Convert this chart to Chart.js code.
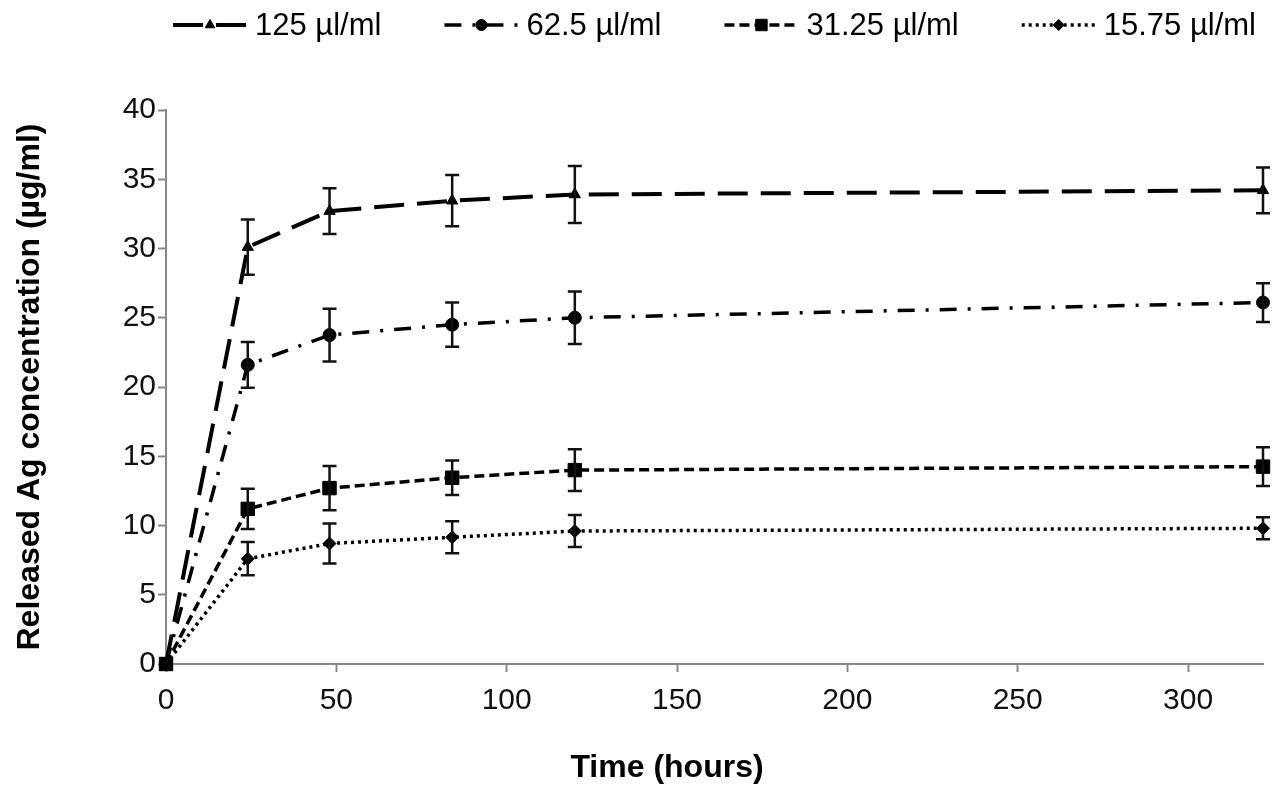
<!DOCTYPE html>
<html><head><meta charset="utf-8">
<script src="https://cdn.jsdelivr.net/npm/chart.js@4/dist/chart.umd.min.js"></script>
<style>html,body{margin:0;padding:0;background:#fff;}#wrap{width:1274px;height:790px;}</style>
</head><body><div id="wrap"><canvas id="c" width="1274" height="790"></canvas></div>
<script>
const timeHours = [0, 24, 48, 84, 120, 322];
const seriesLabels = ['125 µl/ml', '62.5 µl/ml', '31.25 µl/ml', '15.75 µl/ml'];
const conc125 = [0, 30.1, 32.7, 33.45, 33.9, 34.2];
const err125  = [0, 2.0, 1.65, 1.85, 2.05, 1.65];
const conc62  = [0, 21.6, 23.75, 24.5, 25.0, 26.1];
const err62   = [0, 1.65, 1.9, 1.6, 1.9, 1.4];
const conc31  = [0, 11.2, 12.7, 13.45, 14.0, 14.25];
const err31   = [0, 1.45, 1.6, 1.25, 1.5, 1.4];
const conc15  = [0, 7.6, 8.7, 9.15, 9.6, 9.8];
const err15   = [0, 1.2, 1.45, 1.15, 1.15, 0.8];
const xTitle = 'Time (hours)';
const yTitle = 'Released Ag concentration (µg/ml)';

const FONT = "'Liberation Sans', Arial, sans-serif";
Chart.defaults.font.family = FONT;
Chart.defaults.color = '#111';

function pts(vals){ return vals.map((v,i)=>({x: timeHours[i], y: v})); }

const styles = [
  {dash:[30,13], style:'triangle', r:6.5, w:4},
  {dash:[17,11,3,11], style:'circle', r:6.5, w:3.5},
  {dash:[10,5], style:'rect', r:9.5, w:3.5},
  {dash:[3,4], style:'rectRot', r:6.5, w:3.5}
];
const values = [conc125, conc62, conc31, conc15];
const errors = [err125, err62, err31, err15];

const datasets = seriesLabels.map((lab,i)=>({
  label: lab,
  data: pts(values[i]),
  errors: errors[i],
  borderColor:'#000', backgroundColor:'#000',
  borderWidth: styles[i].w, borderDash: styles[i].dash,
  pointStyle: styles[i].style, pointRadius: styles[i].r,
  pointBackgroundColor:'#000', pointBorderColor:'#000', pointBorderWidth:1,
  tension:0, fill:false, clip:false
}));

const errorBars = {
  id:'errorBars',
  afterDatasetsDraw(chart){
    const ctx = chart.ctx, xs = chart.scales.x, ys = chart.scales.y;
    ctx.save();
    ctx.strokeStyle = '#111'; ctx.lineWidth = 2.5; ctx.setLineDash([]);
    chart.data.datasets.forEach(ds=>{
      ds.data.forEach((p,j)=>{
        const e = ds.errors[j]; if(!e) return;
        const x = xs.getPixelForValue(p.x);
        const y1 = ys.getPixelForValue(p.y + e), y2 = ys.getPixelForValue(p.y - e);
        ctx.beginPath();
        ctx.moveTo(x,y1); ctx.lineTo(x,y2);
        ctx.moveTo(x-7,y1); ctx.lineTo(x+7,y1);
        ctx.moveTo(x-7,y2); ctx.lineTo(x+7,y2);
        ctx.stroke();
      });
    });
    ctx.restore();
  }
};

const lineLegend = {
  id:'lineLegend',
  afterDraw(chart){
    const ctx = chart.ctx;
    ctx.save();
    ctx.font = "31px " + FONT;
    const sampleW = 74, textGap = 8, itemGap = 63;
    const items = chart.data.datasets.map(ds=>({ds, w: sampleW + textGap + ctx.measureText(ds.label).width}));
    const total = items.reduce((s,it)=>s+it.w,0) + itemGap*(items.length-1);
    const ca = chart.chartArea;
    let x = (ca.left + ca.right)/2 - total/2;
    const y = 25;
    items.forEach(it=>{
      const ds = it.ds;
      ctx.strokeStyle = '#000'; ctx.fillStyle = '#000';
      ctx.lineWidth = ds.borderWidth; ctx.setLineDash(ds.borderDash);
      ctx.beginPath(); ctx.moveTo(x,y); ctx.lineTo(x+sampleW,y); ctx.stroke();
      ctx.setLineDash([]);
      ctx.lineWidth = 1;
      Chart.helpers.drawPoint(ctx, {pointStyle: ds.pointStyle, radius: ds.pointRadius*0.85, rotation:0, borderWidth:1}, x+sampleW/2, y);
      ctx.textAlign='left'; ctx.textBaseline='middle';
      ctx.fillText(ds.label, x+sampleW+textGap, y+1);
      x += it.w + itemGap;
    });
    ctx.font = "bold 32px " + FONT;
    ctx.textAlign='center'; ctx.textBaseline='middle';
    ctx.fillText(xTitle, chart.width/2 + 30, 768);
    ctx.restore();
  }
};

new Chart(document.getElementById('c'), {
  type:'line',
  data:{datasets},
  options:{
    responsive:false, animation:false, devicePixelRatio:1,
    layout:{padding:{top:110, right:11, bottom:0, left:0}},
    plugins:{legend:{display:false}, tooltip:{enabled:false}},
    scales:{
      x:{
        type:'linear', min:0, max:322,
        afterFit(s){ s.height = 126; },
        ticks:{stepSize:50, includeBounds:false, font:{size:30}, color:'#111', padding:11, maxRotation:0},
        grid:{drawOnChartArea:false, drawTicks:true, tickLength:8, tickColor:'#888', tickWidth:2},
        border:{color:'#888', width:2}
      },
      y:{
        type:'linear', min:0, max:40,
        afterFit(s){ s.width = 166; },
        ticks:{stepSize:5, font:{size:30}, color:'#111', padding:2},
        grid:{drawOnChartArea:false, drawTicks:true, tickLength:8, tickColor:'#888', tickWidth:2},
        border:{color:'#888', width:2},
        title:{display:true, text:yTitle, font:{size:32, weight:'bold'}, color:'#000', padding:{top:11, bottom:0}}
      }
    }
  },
  plugins:[errorBars, lineLegend]
});
</script></body></html>
